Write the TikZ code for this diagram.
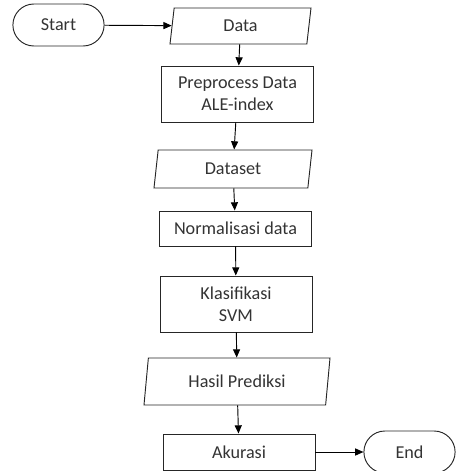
\documentclass[tikz,border=0pt]{standalone}
\usepackage{fontspec}
\setmainfont{Carlito}
\usetikzlibrary{shapes.geometric,shapes.misc,arrows.meta}
\begin{document}
\begin{tikzpicture}[x=0.03cm,y=-0.03cm,line width=0.8pt,>={Triangle[length=7pt,width=6pt]},
  every node/.style={font=\fontsize{15.5}{19}\selectfont,text=black!80,draw=black!85,align=center},
  terminal/.style={rounded rectangle,minimum width=2.97cm,minimum height=1.26cm},
  procbox/.style={rectangle,minimum width=4.56cm},
  iobox/.style={trapezium,trapezium left angle=78,trapezium right angle=102,trapezium stretches body=true}]
\useasboundingbox (0,0) rectangle (457,471);
% start and first input
\node[terminal] (start) at (58.5,25) {Start};
\node[iobox,minimum width=4.23cm,minimum height=1.08cm] (data) at (240.5,26) {Data};
% processing chain
\node[procbox,minimum height=1.68cm] (prep) at (237.5,94) {Preprocess Data\\ALE-index};
\node[iobox,minimum width=4.74cm,minimum height=1.14cm] (dataset) at (233,169) {Dataset};
\node[procbox,minimum height=1.05cm] (norm) at (235.5,228.5) {Normalisasi data};
\node[procbox,minimum height=1.68cm] (svm) at (236,304) {Klasifikasi\\SVM};
\node[iobox,minimum width=5.58cm,minimum height=1.41cm] (hasil) at (237,381.5) {Hasil Prediksi};
\node[procbox,minimum height=1.08cm] (akurasi) at (239,452) {Akurasi};
% end
\node[terminal] (end) at (409.5,452) {End};
% connectors
\draw[->] (start) -- (data);
\draw[->] (data) -- (prep);
\draw[->] (prep) -- (dataset);
\draw[->] (dataset) -- (norm);
\draw[->] (norm) -- (svm);
\draw[->] (svm) -- (hasil);
\draw[->] (hasil) -- (akurasi);
\draw[->] (akurasi) -- (end);
\end{tikzpicture}
\end{document}
